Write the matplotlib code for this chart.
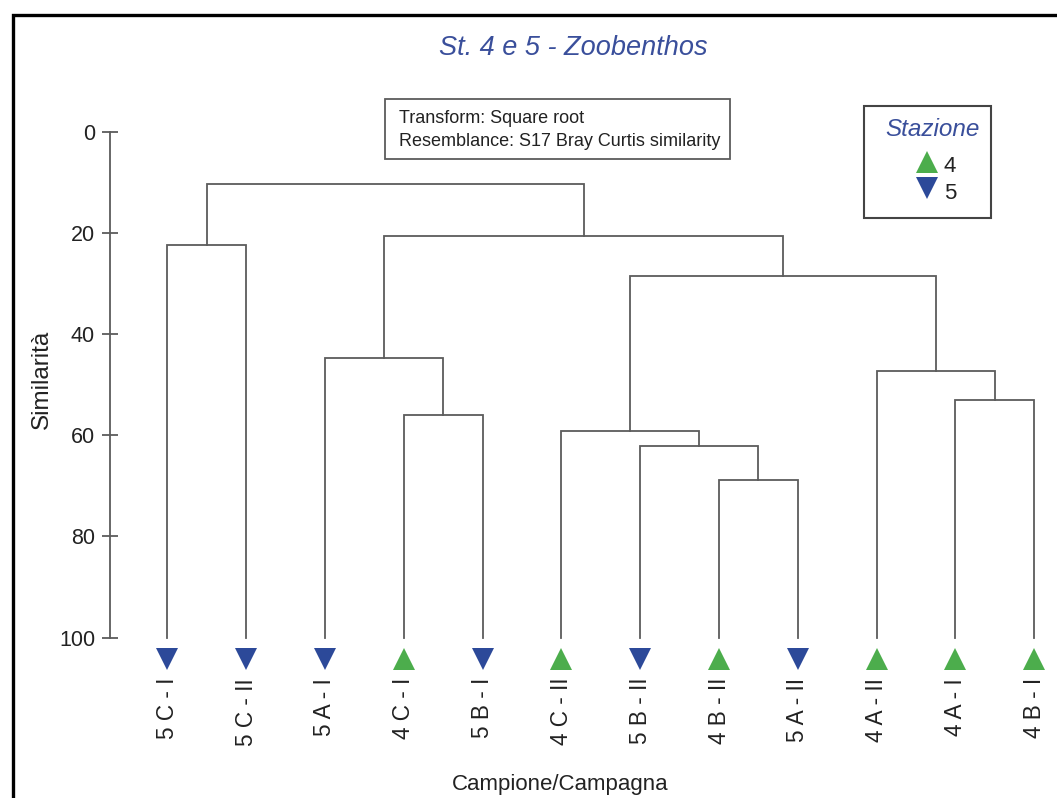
import matplotlib
matplotlib.use("Agg")
import matplotlib.pyplot as plt
from matplotlib.lines import Line2D
from matplotlib.patches import Rectangle

plt.rcParams["font.family"] = ["Liberation Sans", "DejaVu Sans"]

# Samples in dendrogram order and their station
samples = ["5 C - I", "5 C - II", "5 A - I", "4 C - I", "5 B - I", "4 C - II",
           "5 B - II", "4 B - II", "5 A - II", "4 A - II", "4 A - I", "4 B - I"]
stations = [5, 5, 5, 4, 5, 4, 5, 4, 5, 4, 4, 4]

# Agglomeration steps: (left node, right node, similarity %); new nodes are numbered from 12
merge_left = [0, 3, 2, 7, 6, 5, 10, 9, 17, 14, 12]
merge_right = [1, 4, 13, 8, 15, 16, 11, 18, 19, 20, 21]
merge_similarity = [22.4, 56.0, 44.8, 68.9, 62.1, 59.1, 53.0, 47.3, 28.5, 20.6, 10.4]

y_ticks = [0, 20, 40, 60, 80, 100]

station_style = {4: dict(marker="^", color="#4cad4c"),
                 5: dict(marker="v", color="#2c4999")}
line_color = "#5c5c5c"
title_blue = "#3a4f9b"

W, H = 1057, 798
fig = plt.figure(figsize=(W / 100, H / 100), dpi=100)


def fx(x):
    return x / W


def fy(y):
    return 1 - y / H


# Axes: left spine at x=110px, similarity 0 at y=131.5px, 100 at y=637.5px
ax_left, ax_top, ax_bottom = 110, 131.5, 637.5
spacing = (1034.3 - 167.3) / 11
x_lo = -(167.3 - ax_left) / spacing
x_hi = 11 + (W - 1034.3) / spacing
ax = fig.add_axes([fx(ax_left), fy(ax_bottom), 1 - fx(ax_left), (ax_bottom - ax_top) / H])
ax.set_xlim(x_lo, x_hi)
ax.set_ylim(100, 0)
ax.patch.set_visible(False)
for side in ["top", "right", "bottom"]:
    ax.spines[side].set_visible(False)
ax.spines["left"].set_color(line_color)
ax.spines["left"].set_linewidth(1.3)
ax.set_xticks([])
ax.set_yticks(y_ticks)
ax.tick_params(axis="y", direction="inout", length=11.5, width=1.3, color=line_color,
               labelsize=15.5, pad=5, labelcolor="#222222")

# Dendrogram drawn from the merge table
n = len(samples)
node_x = {i: float(i) for i in range(n)}
node_y = {i: 100.0 for i in range(n)}
for k, (a, b, s) in enumerate(zip(merge_left, merge_right, merge_similarity)):
    new = n + k
    xa, xb = node_x[a], node_x[b]
    ax.plot([xa, xa, xb, xb], [node_y[a], s, s, node_y[b]],
            color=line_color, lw=1.3, solid_joinstyle="miter", clip_on=False)
    node_x[new] = (xa + xb) / 2
    node_y[new] = s

# Station markers and sample labels under each leaf
for i, (name, st) in enumerate(zip(samples, stations)):
    sty = station_style[st]
    ax.plot(i, 104.2, linestyle="none", marker=sty["marker"], color=sty["color"],
            markersize=15.5, markeredgewidth=0, clip_on=False)
    ax.text(i, 108.0, name, rotation=90, ha="center", va="top", fontsize=16.3,
            color="#222222", clip_on=False)

# Titles and axis names
fig.text(fx(573), fy(55), "St. 4 e 5 - Zoobenthos", ha="center", va="baseline",
         fontsize=19.5, style="italic", color=title_blue)
fig.text(fx(42), fy(379), "Similarità", rotation=90, ha="center", va="center",
         fontsize=17.5, color="#222222")
fig.text(fx(560), fy(790), "Campione/Campagna", ha="center", va="baseline",
         fontsize=16, color="#222222")

# Transform / resemblance note
fig.add_artist(Rectangle((fx(385), fy(159)), fx(730 - 385), (159 - 99) / H,
                         transform=fig.transFigure, fill=False, edgecolor=line_color, lw=1.3))
fig.text(fx(399), fy(123), "Transform: Square root", ha="left", va="baseline",
         fontsize=13, color="#222222")
fig.text(fx(399), fy(146), "Resemblance: S17 Bray Curtis similarity", ha="left",
         va="baseline", fontsize=13, color="#222222")

# Station legend
fig.add_artist(Rectangle((fx(864), fy(218)), fx(991 - 864), (218 - 106) / H,
                         transform=fig.transFigure, fill=False, edgecolor="#444444", lw=1.5))
fig.text(fx(933), fy(136), "Stazione", ha="center", va="baseline", fontsize=17.5,
         style="italic", color=title_blue)
for st, yc, yb in [(4, 162, 172), (5, 188, 199)]:
    sty = station_style[st]
    fig.add_artist(Line2D([fx(927)], [fy(yc)], transform=fig.transFigure, linestyle="none",
                          marker=sty["marker"], color=sty["color"], markersize=15.5,
                          markeredgewidth=0))
    fig.text(fx(944), fy(yb), str(st), ha="left", va="baseline", fontsize=16,
             color="#222222")

# Outer frame (its right and bottom sides lie outside the canvas)
fig.add_artist(Line2D([fx(13), fx(13), 1.01], [-0.01, fy(15), fy(15)],
                      transform=fig.transFigure, color="black", lw=2.4,
                      solid_joinstyle="miter"))

fig.savefig("out.png", dpi=100)
